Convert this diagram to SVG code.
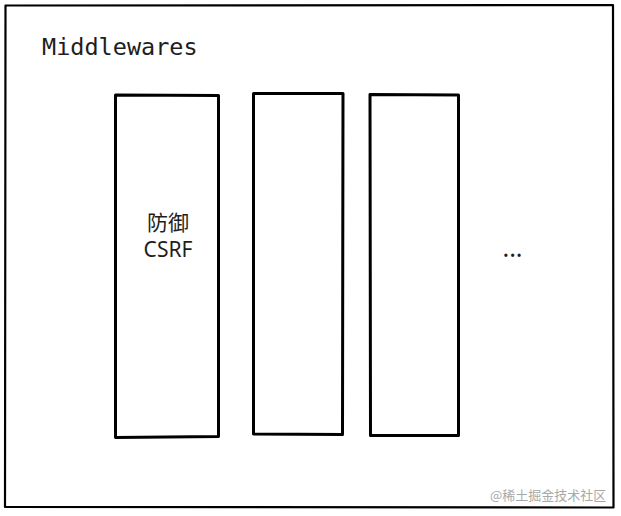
<svg xmlns="http://www.w3.org/2000/svg" width="621" height="516" viewBox="0 0 621 516">
<style>
.box{fill:none;stroke:#000;stroke-width:3;stroke-linejoin:round;stroke-linecap:round}
.outer{fill:none;stroke:#000;stroke-width:2.2;stroke-linejoin:round}
.lbl{font-family:"Noto Sans","Noto Sans CJK SC",sans-serif;font-size:21px;fill:#1e1e1e;text-anchor:middle}
.mono{font-family:"DejaVu Sans Mono","Liberation Mono",monospace;font-size:23.5px;fill:#1e1e1e}
.wm{font-family:"Noto Sans CJK SC",sans-serif;font-size:13px;fill:#a8a8a8}
</style>
<rect width="621" height="516" fill="#fff"/>
<g id="container">
<path class="outer" d="M5.5 5.5 L613 5 L613.5 507.5 L5 507 Z"/>
<text class="mono" x="42" y="55">Middlewares</text>
</g>
<g id="node-csrf">
<path class="box" d="M115.5 95 L218.5 95.5 L218.5 436.5 L115.5 437.5 Z"/>
<text class="lbl" x="168" y="230">防御</text>
<text class="lbl" x="168" y="257">CSRF</text>
</g>
<g id="node-2">
<path class="box" d="M253.5 93.5 L343 93.5 L342.5 434.5 L253.5 434 Z"/>
</g>
<g id="node-3">
<path class="box" d="M370 94.5 L458.5 95 L458.5 435.5 L370.5 435.5 Z"/>
</g>
<g id="ellipsis">
<text x="512.5" y="257" style="font-family:'Noto Sans',sans-serif;font-size:25px;fill:#1e1e1e;text-anchor:middle">...</text>
</g>
<g id="connectors"></g>
<text class="wm" x="490" y="500">@稀土掘金技术社区</text>
</svg>
